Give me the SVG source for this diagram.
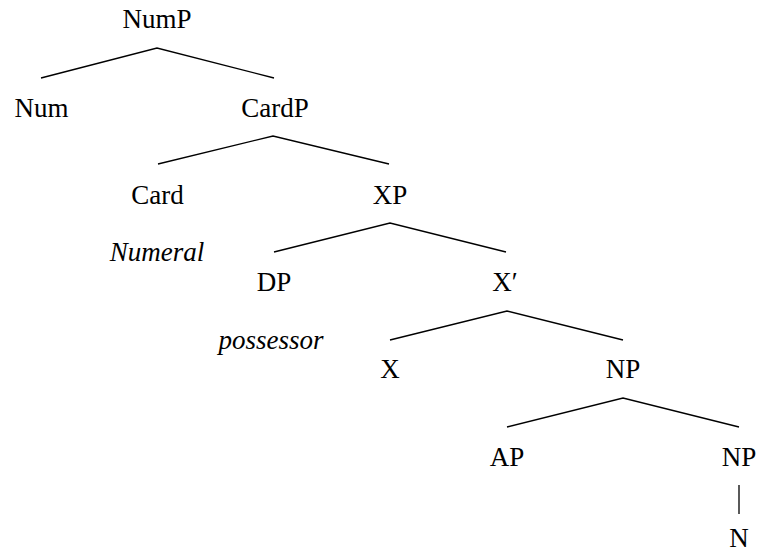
<svg xmlns="http://www.w3.org/2000/svg" width="758" height="554" viewBox="0 0 758 554">
<style>
text{font-family:'Liberation Serif','DejaVu Serif',serif;font-size:27px;fill:#000;text-anchor:middle}
.it{font-style:italic}
.e{stroke:#000;stroke-width:1.3;fill:none}
</style>
<rect width="758" height="554" fill="#fff"/>
<g id="connectors">
<polyline class="e" points="41,78 157,48 274,78"/>
<polyline class="e" points="158,164 273,136 389,164"/>
<polyline class="e" points="274,252 390,223 506,252"/>
<polyline class="e" points="390,340 507,311 623,340"/>
<polyline class="e" points="507,427 623,398 739,427"/>
<line class="e" x1="739" y1="485" x2="739" y2="514"/>
</g>
<g id="NumP"><text x="157" y="28">NumP</text></g>
<g id="Num"><text x="41.5" y="117">Num</text></g>
<g id="CardP"><text x="275" y="117">CardP</text></g>
<g id="Card"><text x="157.5" y="204">Card</text></g>
<g id="XP"><text x="390" y="204">XP</text></g>
<g id="Numeral"><text class="it" x="157" y="261">Numeral</text></g>
<g id="DP"><text x="274" y="291">DP</text></g>
<g id="Xbar"><text x="505" y="291">X′</text></g>
<g id="possessor"><text class="it" x="271" y="349">possessor</text></g>
<g id="X"><text x="390" y="378">X</text></g>
<g id="NP1"><text x="623" y="378">NP</text></g>
<g id="AP"><text x="507" y="466">AP</text></g>
<g id="NP2"><text x="739" y="466">NP</text></g>
<g id="N"><text x="739" y="547">N</text></g>
</svg>
